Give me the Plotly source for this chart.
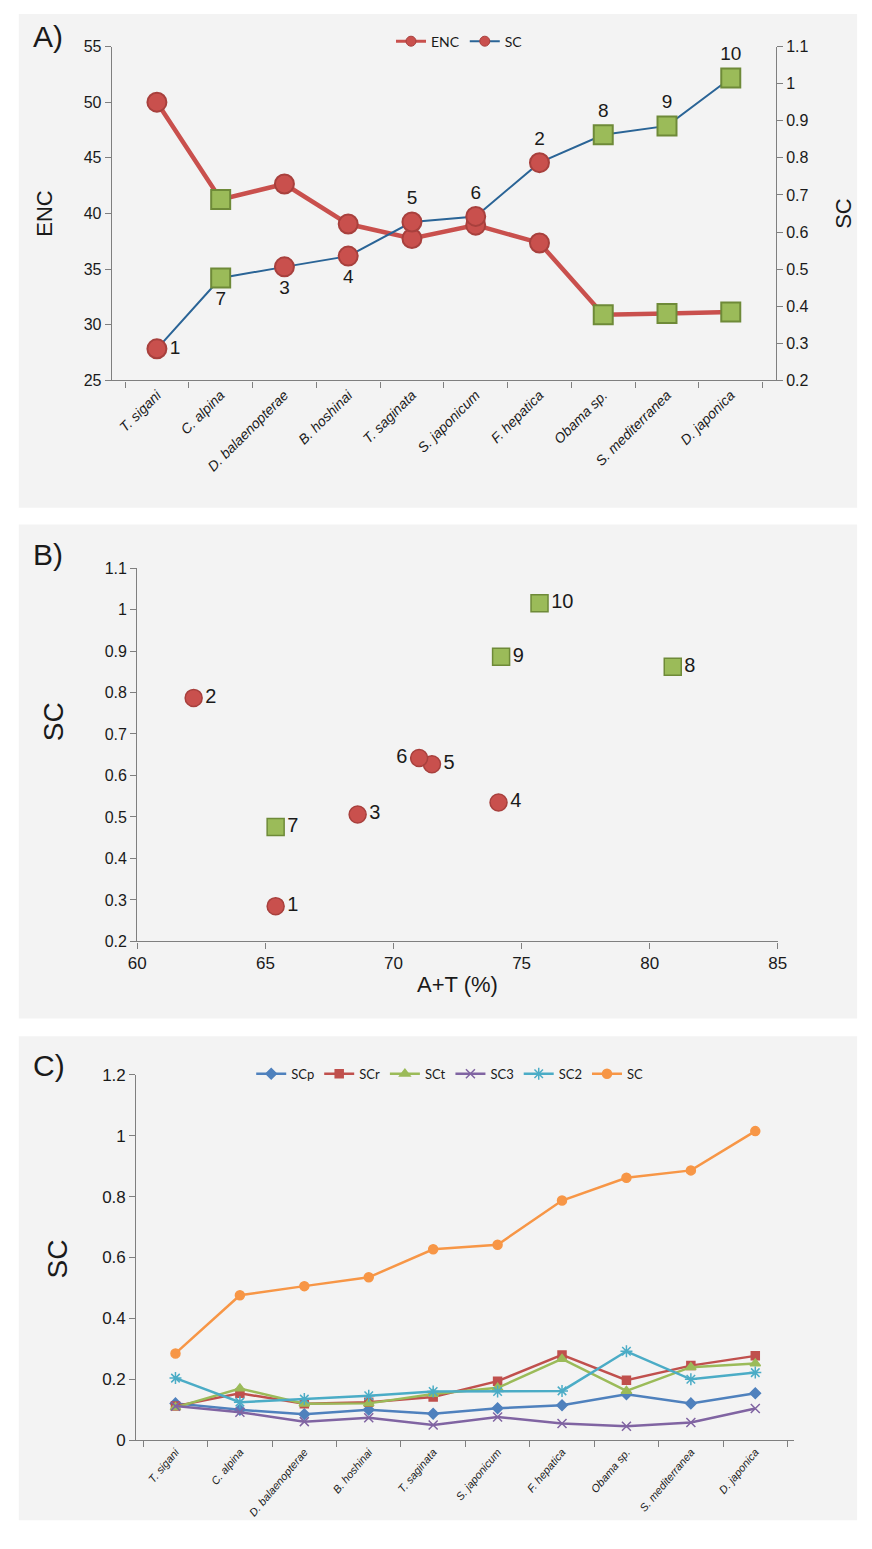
import plotly.graph_objects as go

# ---------------- data ----------------
species = ["T. sigani", "C. alpina", "D. balaenopterae", "B. hoshinai", "T. saginata",
           "S. japonicum", "F. hepatica", "Obama sp.", "S. mediterranea", "D. japonica"]
species_id = ["1", "7", "3", "4", "5", "6", "2", "8", "9", "10"]
group = ["red", "green", "red", "red", "red", "red", "red", "green", "green", "green"]

enc = [50.0, 41.25, 42.65, 39.05, 37.75, 38.95, 37.35, 30.9, 31.0, 31.15]
sc = [0.285, 0.476, 0.506, 0.535, 0.627, 0.642, 0.787, 0.862, 0.886, 1.015]
at_pct = [65.4, 65.4, 68.6, 74.1, 71.5, 71.0, 62.2, 80.9, 74.2, 75.7]

scp = [0.121, 0.100, 0.085, 0.100, 0.087, 0.105, 0.115, 0.151, 0.121, 0.154]
scr = [0.112, 0.154, 0.120, 0.125, 0.142, 0.194, 0.280, 0.197, 0.245, 0.277]
sct = [0.108, 0.170, 0.120, 0.121, 0.152, 0.172, 0.267, 0.162, 0.240, 0.252]
sc3 = [0.112, 0.092, 0.061, 0.074, 0.050, 0.076, 0.055, 0.046, 0.058, 0.104]
sc2 = [0.204, 0.125, 0.135, 0.146, 0.160, 0.160, 0.162, 0.292, 0.200, 0.222]

# ---------------- style ----------------
W, H = 872, 1549
RED, RED_EDGE = "#C9504D", "#A8403D"
GREEN, GREEN_EDGE = "#9BBB59", "#6E8A38"
BLUE_LINE = "#2A6496"
PANEL_BG = "#F3F3F3"
AXIS_COL = "#7F7F7F"
FONT = "Liberation Sans, Arial, sans-serif"
NARROW = "Liberation Sans Narrow, Liberation Sans, Arial, sans-serif"
LEG_FONT = "Lato, Open Sans, sans-serif"

def px_x(p):
    return p / W

def px_y(p):
    return 1 - p / H

fill = [RED if g == "red" else GREEN for g in group]
edge = [RED_EDGE if g == "red" else GREEN_EDGE for g in group]
symb = ["circle" if g == "red" else "square" for g in group]
posA = ["middle right", "bottom center", "bottom center", "bottom center", "top center",
        "top center", "top center", "top center", "top center", "top center"]
posB = ["middle right"] * 5 + ["middle left"] + ["middle right"] * 4

fig = go.Figure()

# ---------------- Panel A ----------------
fig.add_trace(go.Scatter(
    x=species, y=enc, mode="lines+markers", xaxis="x", yaxis="y",
    line=dict(color=RED, width=4.5),
    marker=dict(size=19, color=fill, symbol=symb, line=dict(color=edge, width=2)),
    showlegend=False))
fig.add_trace(go.Scatter(
    x=species, y=sc, mode="lines+markers+text", xaxis="x", yaxis="y2",
    line=dict(color=BLUE_LINE, width=2),
    marker=dict(size=19, color=fill, symbol=symb, line=dict(color=edge, width=2)),
    text=species_id, textposition=posA,
    textfont=dict(size=19, color="#1a1a1a", family=FONT),
    showlegend=False))
fig.add_trace(go.Scatter(x=[None], y=[None], mode="lines+markers", name="ENC",
                         xaxis="x", yaxis="y", legend="legend",
                         line=dict(color=RED, width=3),
                         marker=dict(size=10, color=RED, line=dict(color=RED_EDGE, width=1))))
fig.add_trace(go.Scatter(x=[None], y=[None], mode="lines+markers", name="SC",
                         xaxis="x", yaxis="y", legend="legend",
                         line=dict(color=BLUE_LINE, width=2),
                         marker=dict(size=10, color=RED, line=dict(color=RED_EDGE, width=1))))

# ---------------- Panel B ----------------
for g_name, sym, fc, ec in [("red", "circle", RED, RED_EDGE), ("green", "square", GREEN, GREEN_EDGE)]:
    idx = [i for i, g in enumerate(group) if g == g_name]
    fig.add_trace(go.Scatter(
        x=[at_pct[i] for i in idx], y=[sc[i] for i in idx],
        mode="markers+text", xaxis="x2", yaxis="y3",
        marker=dict(size=17, color=fc, symbol=sym, line=dict(color=ec, width=1.5)),
        text=[species_id[i] for i in idx], textposition=[posB[i] for i in idx],
        textfont=dict(size=20, color="#1a1a1a", family=NARROW),
        showlegend=False))

# ---------------- Panel C ----------------
series_c = [
    ("SCp", scp, "#4F81BD", "diamond", 8),
    ("SCr", scr, "#C0504D", "square", 8),
    ("SCt", sct, "#9BBB59", "triangle-up", 9),
    ("SC3", sc3, "#8064A2", "x-thin", 9),
    ("SC2", sc2, "#4BACC6", "asterisk", 10),
    ("SC", sc, "#F79646", "circle", 9),
]
for name, vals, col, sym, msize in series_c:
    fig.add_trace(go.Scatter(
        x=species, y=vals, name=name, mode="lines+markers", xaxis="x3", yaxis="y4",
        legend="legend2",
        line=dict(color=col, width=2.5),
        marker=dict(size=msize, color=col, symbol=sym, line=dict(color=col, width=1.5)),
    ))

axis_common = dict(showline=True, linecolor=AXIS_COL, linewidth=1.3, ticks="outside",
                   tickcolor=AXIS_COL, ticklen=6, showgrid=False, zeroline=False)

layout = dict(
    width=W, height=H, autosize=False,
    margin=dict(l=0, r=0, t=0, b=0),
    paper_bgcolor="white", plot_bgcolor="rgba(0,0,0,0)",
    font=dict(family=FONT, color="#1a1a1a"),
    xaxis=dict(domain=[px_x(105), px_x(783)], anchor="y", type="category",
               tickson="boundaries", tickangle=-45,
               tickfont=dict(size=14, family=FONT, style="italic", color="#1a1a1a"),
               **axis_common),
    yaxis=dict(domain=[px_y(376), px_y(38)], anchor="x", range=[25, 55], dtick=5,
               tickfont=dict(size=16), **axis_common),
    yaxis2=dict(overlaying="y", side="right", anchor="x", range=[0.2, 1.1], dtick=0.1,
                tickfont=dict(size=16), **axis_common),
    xaxis2=dict(domain=[px_x(131), px_x(785)], anchor="y3", range=[60, 85], dtick=5,
                tickfont=dict(size=17, family=NARROW), **axis_common),
    yaxis3=dict(domain=[px_y(944), px_y(566)], anchor="x2", range=[0.2, 1.1], dtick=0.1,
                tickfont=dict(size=16, family=NARROW), **axis_common),
    xaxis3=dict(domain=[px_x(130), px_x(802)], anchor="y4", type="category",
                tickson="boundaries", tickangle=-50,
                tickfont=dict(size=11, family=FONT, style="italic", color="#1a1a1a"),
                **axis_common),
    yaxis4=dict(domain=[px_y(1449), px_y(1079)], anchor="x3", range=[0, 1.2], dtick=0.2,
                tickfont=dict(size=17), **axis_common),
    legend=dict(orientation="h", x=px_x(460), xanchor="center", y=px_y(33), yanchor="middle",
                bgcolor="rgba(0,0,0,0)", font=dict(size=14, family=LEG_FONT),
                itemwidth=30, tracegroupgap=0),
    legend2=dict(orientation="h", x=px_x(450), xanchor="center", y=px_y(1078), yanchor="middle",
                 bgcolor="rgba(0,0,0,0)", font=dict(size=13, family=LEG_FONT),
                 itemwidth=30),
    shapes=[
        dict(type="rect", xref="paper", yref="paper", x0=px_x(10), x1=px_x(866),
             y0=px_y(505), y1=px_y(5), fillcolor=PANEL_BG, line=dict(width=0), layer="below"),
        dict(type="rect", xref="paper", yref="paper", x0=px_x(10), x1=px_x(866),
             y0=px_y(1022), y1=px_y(522), fillcolor=PANEL_BG, line=dict(width=0), layer="below"),
        dict(type="rect", xref="paper", yref="paper", x0=px_x(10), x1=px_x(866),
             y0=px_y(1530), y1=px_y(1040), fillcolor=PANEL_BG, line=dict(width=0), layer="below"),
    ],
    annotations=[
        dict(text="A)", x=px_x(22), y=px_y(28), xref="paper", yref="paper", showarrow=False,
             xanchor="left", yanchor="middle", font=dict(size=30, family=FONT)),
        dict(text="B)", x=px_x(22), y=px_y(552), xref="paper", yref="paper", showarrow=False,
             xanchor="left", yanchor="middle", font=dict(size=30, family=FONT)),
        dict(text="C)", x=px_x(22), y=px_y(1070), xref="paper", yref="paper", showarrow=False,
             xanchor="left", yanchor="middle", font=dict(size=30, family=FONT)),
        dict(text="ENC", x=px_x(36), y=px_y(207), xref="paper", yref="paper", showarrow=False,
             textangle=-90, xanchor="center", yanchor="middle", font=dict(size=22)),
        dict(text="SC", x=px_x(852), y=px_y(207), xref="paper", yref="paper", showarrow=False,
             textangle=-90, xanchor="center", yanchor="middle", font=dict(size=22)),
        dict(text="SC", x=px_x(45), y=px_y(722), xref="paper", yref="paper", showarrow=False,
             textangle=-90, xanchor="center", yanchor="middle", font=dict(size=28)),
        dict(text="A+T (%)", x=px_x(458), y=px_y(988), xref="paper", yref="paper", showarrow=False,
             xanchor="center", yanchor="middle", font=dict(size=22, family=NARROW)),
        dict(text="SC", x=px_x(50), y=px_y(1265), xref="paper", yref="paper", showarrow=False,
             textangle=-90, xanchor="center", yanchor="middle", font=dict(size=28)),
    ],
)
fig.update_layout(**layout)

# remove the browser's default 8px page margin so the figure sits at the window origin
fig.write_html("out.html", config={"displayModeBar": False},
               post_script="document.body.style.margin='0px';")
